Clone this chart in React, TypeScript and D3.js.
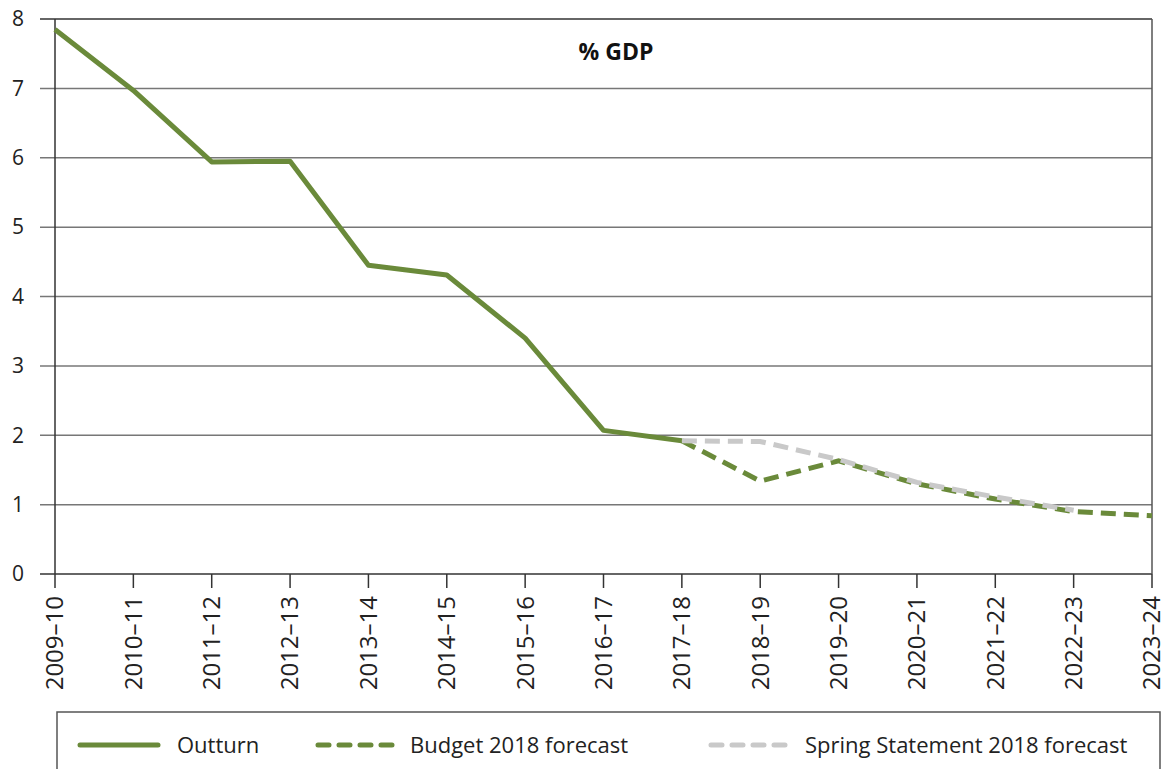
import React from "react";
import * as d3 from "d3";

const categories = ["2009–10","2010–11","2011–12","2012–13","2013–14","2014–15","2015–16","2016–17","2017–18","2018–19","2019–20","2020–21","2021–22","2022–23","2023–24"];
const outturn = [7.85, 6.97, 5.94, 5.95, 4.45, 4.31, 3.40, 2.07, 1.92];
const budget = [null, null, null, null, null, null, null, null, 1.92, 1.34, 1.63, 1.30, 1.08, 0.90, 0.84];
const spring = [null, null, null, null, null, null, null, null, 1.92, 1.91, 1.65, 1.32, 1.11, 0.92, null];
const yTicks = [0, 1, 2, 3, 4, 5, 6, 7, 8];

const W = 1164, H = 769;
const m = { left: 55, right: 1152, top: 19, bottom: 574 };
const GREEN = "#6a8a3a";
const GREY = "#c9c9c9";
const FONT = "'Open Sans', 'Noto Sans', sans-serif";

export default function App() {
  const x = d3.scalePoint<string>().domain(categories).range([m.left, m.right]);
  const y = d3.scaleLinear().domain([0, 8]).range([m.bottom, m.top]);
  const line = d3.line<number | null>()
    .defined((d) => d != null)
    .x((_, i) => x(categories[i]) as number)
    .y((d) => y(d as number));

  return (
    <svg width={W} height={H} style={{ position: "absolute", left: 0, top: 0, background: "#fff" }} fontFamily={FONT}>
      {yTicks.map((t) => (
        <g key={t}>
          <line x1={40} x2={m.right} y1={y(t)} y2={y(t)} stroke={t === 0 || t === 8 ? "#333" : "#777"} strokeWidth={1.5} />
          <text x={24} y={y(t)} dy="0.35em" textAnchor="end" fontSize={21} fill="#222">{t}</text>
        </g>
      ))}
      <line x1={m.left} x2={m.left} y1={m.top} y2={m.bottom} stroke="#333" strokeWidth={1.5} />
      <line x1={m.right} x2={m.right} y1={m.top} y2={m.bottom} stroke="#555" strokeWidth={1.5} />
      {categories.map((c) => (
        <g key={c}>
          <line x1={x(c)} x2={x(c)} y1={m.bottom} y2={m.bottom + 14} stroke="#333" strokeWidth={1.5} />
          <text transform={`translate(${(x(c) as number)},${m.bottom + 22}) rotate(-90)`} dy="0.35em" textAnchor="end" fontSize={24} fill="#222">{c}</text>
        </g>
      ))}
      <text x={616} y={60} textAnchor="middle" fontSize={23} fontWeight="bold" fill="#111">% GDP</text>

      <path d={line(budget) || ""} fill="none" stroke={GREEN} strokeWidth={5} strokeDasharray="15 8" />
      <path d={line(spring) || ""} fill="none" stroke={GREY} strokeWidth={5} strokeDasharray="15 8" />
      <path d={line(outturn) || ""} fill="none" stroke={GREEN} strokeWidth={5} strokeLinejoin="round" />

      <path d={`M57,${H + 5} V712 H1160 V${H + 5}`} fill="none" stroke="#555" strokeWidth={1.5} />
      <line x1={80} x2={158} y1={745} y2={745} stroke={GREEN} strokeWidth={5} strokeLinecap="round" />
      <text x={177} y={745} dy="0.35em" fontSize={22} fill="#222">Outturn</text>
      <line x1={318} x2={392} y1={745} y2={745} stroke={GREEN} strokeWidth={5} strokeLinecap="round" strokeDasharray="11 10" />
      <text x={410} y={745} dy="0.35em" fontSize={22} fill="#222">Budget 2018 forecast</text>
      <line x1={711} x2={788} y1={745} y2={745} stroke={GREY} strokeWidth={5} strokeLinecap="round" strokeDasharray="11 10" />
      <text x={805} y={745} dy="0.35em" fontSize={22} fill="#222">Spring Statement 2018 forecast</text>
    </svg>
  );
}
